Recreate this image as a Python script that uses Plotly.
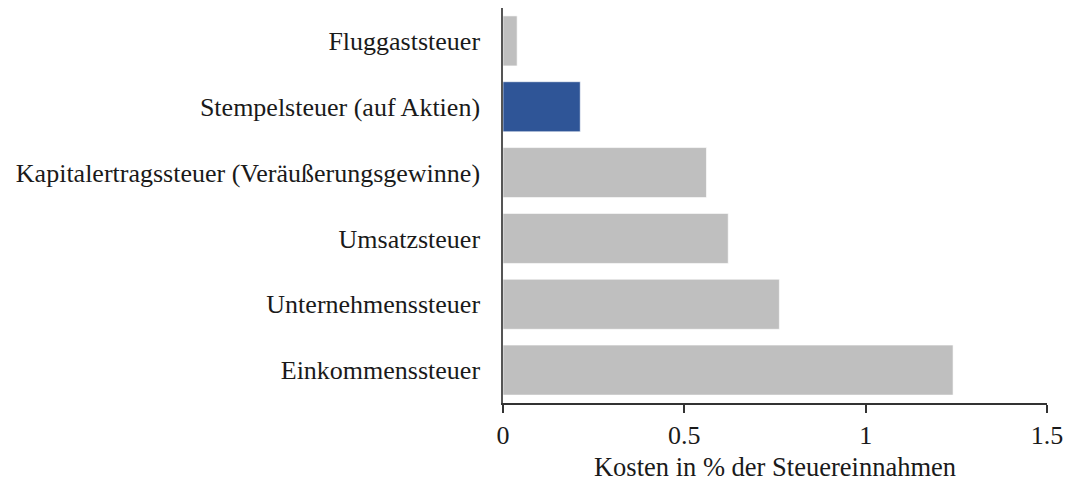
import plotly.graph_objects as go

categories = [
    "Fluggaststeuer",
    "Stempelsteuer (auf Aktien)",
    "Kapitalertragssteuer (Veräußerungsgewinne)",
    "Umsatzsteuer",
    "Unternehmenssteuer",
    "Einkommenssteuer",
]
values = [0.039, 0.213, 0.561, 0.621, 0.762, 1.241]
highlight = "Stempelsteuer (auf Aktien)"
x_ticks = [0, 0.5, 1, 1.5]
x_tick_labels = ["0", "0.5", "1", "1.5"]
x_title = "Kosten in % der Steuereinnahmen"

colors = ["#2F5597" if c == highlight else "#BFBFBF" for c in categories]

fig = go.Figure(go.Bar(
    x=values, y=categories, orientation="h",
    marker=dict(color=colors, line=dict(color="rgba(255,255,255,0.6)", width=1)),
    width=0.76,
))

font = dict(family="Liberation Serif, Times New Roman, serif", size=26, color="#1a1a1a")
fig.update_layout(
    width=1067, height=482,
    margin=dict(l=503, r=20, t=8, b=79),
    paper_bgcolor="white", plot_bgcolor="white",
    font=font,
    showlegend=False,
    bargap=0.24,
)
fig.update_xaxes(
    range=[0, 1.5], tickvals=x_ticks, ticktext=x_tick_labels,
    showgrid=False, zeroline=False, automargin=False,
    showline=True, linecolor="#333333", linewidth=1.5,
    ticks="outside", ticklen=8, tickcolor="#333333", tickwidth=1.5,
    ticklabelstandoff=0, ticklabeloverflow="allow",
    title=dict(text=x_title, standoff=12,
               font=dict(family=font["family"], size=26.5, color="#1a1a1a")),
)
fig.update_yaxes(
    categoryorder="array", categoryarray=categories[::-1],
    showgrid=False, zeroline=False, automargin=False,
    showline=True, linecolor="#555555", linewidth=1.5,
    ticks="", ticklabelstandoff=16,
    range=[-0.5, 5.5],
)
fig.write_html(
    "out.html",
    config={"displayModeBar": False, "responsive": False},
    post_script="document.body.style.margin='0';document.body.style.overflow='hidden';",
)
